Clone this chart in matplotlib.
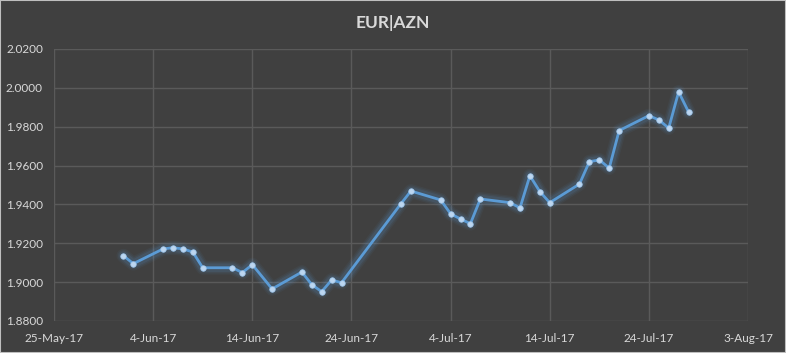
import matplotlib.pyplot as plt
import matplotlib.dates as mdates
import numpy as np
import pandas as pd
from matplotlib.ticker import FormatStrFormatter

# EUR|AZN rates
dates = [
    "2017-06-01", "2017-06-02", "2017-06-05", "2017-06-06", "2017-06-07",
    "2017-06-08", "2017-06-09", "2017-06-12", "2017-06-13", "2017-06-14",
    "2017-06-16", "2017-06-19", "2017-06-20", "2017-06-21", "2017-06-22",
    "2017-06-23", "2017-06-29", "2017-06-30", "2017-07-03", "2017-07-04",
    "2017-07-05", "2017-07-06", "2017-07-07", "2017-07-10", "2017-07-11",
    "2017-07-12", "2017-07-13", "2017-07-14", "2017-07-17", "2017-07-18",
    "2017-07-19", "2017-07-20", "2017-07-21", "2017-07-24", "2017-07-25",
    "2017-07-26", "2017-07-27", "2017-07-28",
]
rates = [
    1.9136, 1.9095, 1.9171, 1.9177, 1.9171,
    1.9155, 1.9074, 1.9074, 1.9049, 1.9090,
    1.8965, 1.9052, 1.8987, 1.8951, 1.9011,
    1.8997, 1.9404, 1.9469, 1.9423, 1.9352,
    1.9325, 1.9301, 1.9428, 1.9409, 1.9382,
    1.9548, 1.9466, 1.9409, 1.9505, 1.9620,
    1.9629, 1.9587, 1.9780, 1.9857, 1.9835,
    1.9793, 1.9979, 1.9876,
]
x_ticks = pd.date_range("2017-05-25", "2017-08-03", freq="10D")
y_ticks = np.arange(1.88, 2.0201, 0.02)

bg = "#404040"
grid_col = "#5a5a5a"
text_col = "#d9d9d9"
line_col = "#5b9bd5"

plt.rcParams["font.family"] = ["Lato", "DejaVu Sans"]

fig = plt.figure(figsize=(7.86, 3.53), dpi=100, facecolor=bg)
ax = fig.add_axes([0.0687, 0.0907, 0.8830, 0.7705])
ax.set_facecolor(bg)

x = pd.to_datetime(dates)

# soft glow under the line
for lw, a in [(10, 0.06), (8, 0.08), (6, 0.12)]:
    ax.plot(x, rates, color=line_col, linewidth=lw, alpha=a,
            solid_capstyle="round", solid_joinstyle="round", zorder=2)
ax.plot(x, rates, color=line_col, linewidth=2, zorder=3)
ax.plot(x, rates, linestyle="none", marker="o", markersize=4,
        markerfacecolor="#bcd6f0", markeredgecolor="#9cc4ea",
        markeredgewidth=0.5, zorder=4)

ax.set_xlim(x_ticks[0], x_ticks[-1])
ax.set_ylim(1.88, 2.02)
ax.set_xticks(x_ticks)
ax.set_yticks(y_ticks)
ax.xaxis.set_major_formatter(
    plt.FuncFormatter(lambda v, p: mdates.num2date(v).strftime("%-d-%b-%y")))
ax.yaxis.set_major_formatter(FormatStrFormatter("%.4f"))

ax.grid(True, color=grid_col, linewidth=1)
ax.set_axisbelow(True)
for s in ax.spines.values():
    s.set_visible(False)
ax.tick_params(length=0, colors=text_col, labelsize=8.5)
ax.tick_params(axis="x", pad=9)
ax.tick_params(axis="y", pad=8)

fig.text(0.5, 0.935, "EUR|AZN", ha="center", va="center",
         color=text_col, fontsize=12.5, fontweight="bold")

# light outer border
fig.patches.append(plt.Rectangle((0, 0), 1, 1, transform=fig.transFigure,
                                 fill=False, edgecolor="#bfbfbf", linewidth=1.5))

fig.savefig("out.png", dpi=100, facecolor=bg)
